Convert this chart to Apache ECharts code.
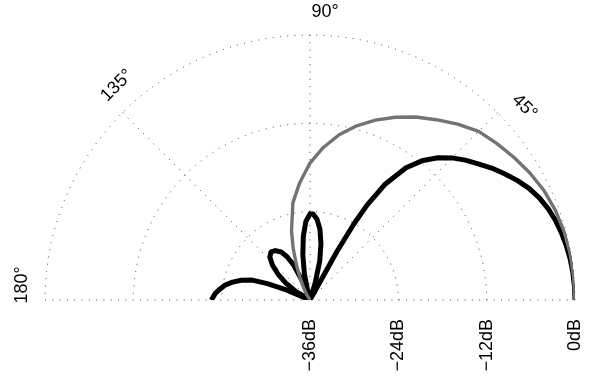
<!DOCTYPE html>
<html>
<head>
<meta charset="utf-8">
<script src="https://cdn.jsdelivr.net/npm/echarts@6/dist/echarts.min.js"></script>
<style>
  html, body { margin: 0; padding: 0; background: #fff; }
  #chart { width: 603px; height: 376px; }
</style>
</head>
<body>
<div id="chart"></div>
<script>
// Radiation pattern, level in dB against direction in degrees (upper half plane)
const angleTicks = [45, 90, 135, 180];
const dbTicks = [-36, -24, -12, 0];

// Array pattern (black)
const arrayAngles = [0, 3, 6, 9, 12, 15, 18, 21, 24, 27, 30, 33, 36, 39, 42, 45, 48, 51, 54, 57, 59, 60, 61, 62,
  66, 71, 73, 76, 79, 82, 85, 88, 90, 93, 96, 99, 102, 105, 106,
  109, 112, 115, 118, 121, 125, 129, 133, 137, 141, 145, 149, 153,
  155, 157, 159, 161, 164, 167, 170, 173, 176, 180];
const arrayDb = [0, -0.03, -0.1, -0.22, -0.4, -0.65, -0.95, -1.35, -1.9, -2.6, -3.5, -4.5, -5.5, -6.6, -7.6, -8.7, -10.0, -11.6, -13.8, -17.2, -21, -24, -28.5, -36,
  -36, -36, -33.6, -30.5, -28.2, -26.3, -25, -24.3, -24.3, -25.3, -27.3, -29.8, -32.3, -35, -36,
  -36, -33.3, -30.8, -29.3, -28.4, -27.8, -27.6, -28, -29, -30.4, -32, -33.8, -36,
  -36, -32.5, -29.8, -27.7, -26.3, -25.2, -24.3, -23.7, -23.1, -22.6];

// Element pattern (grey)
const elementAngles = [0, 5, 10, 15, 20, 25, 30, 35, 40, 45, 50, 55, 60, 65, 70, 75, 80, 85, 90, 95, 100, 105, 108, 111, 114, 118, 122, 126];
const elementDb = [0, -0.05, -0.1, -0.25, -0.5, -0.9, -1.5, -2.2, -2.9, -3.6, -4.8, -6.1, -7.3, -8.6, -10.0, -11.5, -13.2, -15.2, -17.4, -20.0, -22.6, -26.3, -28.6, -30.8, -32.6, -34.2, -35.3, -36];

const DB_MIN = -36;
const toPolar = (angles, db) => angles.map((a, i) => [Math.max(db[i], DB_MIN), a]);

const FONT = '"Liberation Sans", Arial, sans-serif';
const FONT_SIZE = 18;
const dotted = { color: '#444', width: 1, type: [1, 6.3] };

const chart = echarts.init(document.getElementById('chart'), null, { renderer: 'canvas' });

chart.setOption({
  animation: false,
  backgroundColor: '#fff',
  polar: { center: [310, 300], radius: 265 },
  angleAxis: {
    type: 'value', min: 0, max: 180, interval: 45,
    startAngle: 0, endAngle: 180, clockwise: false,
    axisLine: { show: false }, axisTick: { show: false }, axisLabel: { show: false },
    splitLine: { show: true, lineStyle: dotted }
  },
  radiusAxis: {
    type: 'value', min: dbTicks[0], max: dbTicks[dbTicks.length - 1], interval: 12,
    axisLine: { show: false }, axisTick: { show: false }, axisLabel: { show: false },
    splitLine: { show: true, lineStyle: dotted }
  },
  series: [
    {
      type: 'line', coordinateSystem: 'polar', name: 'array',
      data: toPolar(arrayAngles, arrayDb),
      showSymbol: false, symbol: 'none', clip: false,
      lineStyle: { color: '#000', width: 5, join: 'round', cap: 'butt' },
      z: 3
    },
    {
      type: 'line', coordinateSystem: 'polar', name: 'element',
      data: toPolar(elementAngles, elementDb),
      showSymbol: false, symbol: 'none', clip: false,
      lineStyle: { color: '#737373', width: 3.4, join: 'round' },
      z: 4
    }
  ]
});

const textStyle = (text, align) => ({
  text, font: FONT_SIZE + 'px ' + FONT, fill: '#000',
  align, verticalAlign: 'middle'
});

// Angle labels, set tangentially just outside the outer ring
const labelDb = 3.2;
const angleLabels = angleTicks.map(a => {
  const p = chart.convertToPixel({ polarIndex: 0 }, [labelDb, a - 3]);
  return {
    type: 'text', x: p[0], y: p[1],
    rotation: (a - 90) * Math.PI / 180,
    style: textStyle(a + '\u00b0', 'center')
  };
});

// dB labels, rotated upright below the 0° ray
const dbLabels = dbTicks.map(v => {
  const p = chart.convertToPixel({ polarIndex: 0 }, [v, 0]);
  return {
    type: 'text', x: p[0], y: p[1] + 19,
    rotation: Math.PI / 2,
    style: textStyle((v < 0 ? '\u2212' + Math.abs(v) : String(v)) + 'dB', 'right')
  };
});

chart.setOption({ graphic: angleLabels.concat(dbLabels) });
</script>
</body>
</html>
